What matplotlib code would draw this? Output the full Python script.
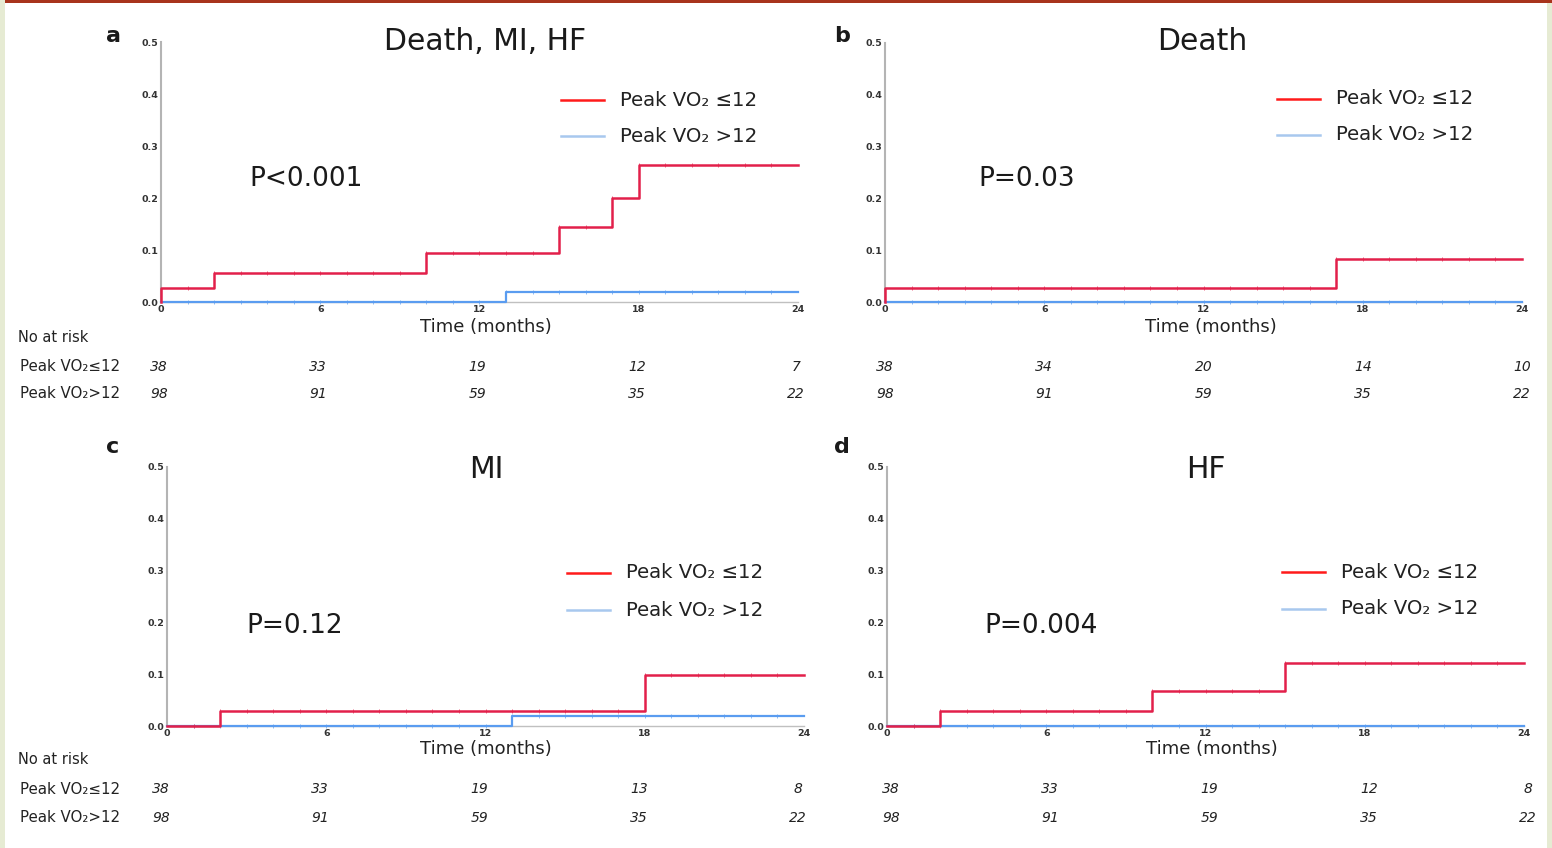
import matplotlib
matplotlib.use("Agg")
import matplotlib.pyplot as plt
from matplotlib.lines import Line2D
from matplotlib.patches import Rectangle
import matplotlib.transforms as mtrans
import numpy as np

# ---------------- data ----------------
panel_letters = ["a", "b", "c", "d"]
panel_titles = ["Death, MI, HF", "Death", "MI", "HF"]
p_values = ["P<0.001", "P=0.03", "P=0.12", "P=0.004"]
series_names = ["Peak VO\u2082 \u226412", "Peak VO\u2082 >12"]
row_names = ["Peak VO\u2082\u226412", "Peak VO\u2082>12"]

x_ticks = [0, 6, 12, 18, 24]
y_ticks = [0.0, 0.1, 0.2, 0.3, 0.4, 0.5]
y_tick_labels = ["0.0", "0.1", "0.2", "0.3", "0.4", "0.5"]
censor_months = list(range(1, 24))

# step curves (time, cumulative incidence)
a_low_t = [0, 0, 2, 10, 15, 17, 18, 24]
a_low_y = [0.0, 0.027, 0.055, 0.094, 0.144, 0.200, 0.263, 0.263]
a_high_t = [0, 13, 24]
a_high_y = [0.0, 0.020, 0.020]

b_low_t = [0, 0, 17, 24]
b_low_y = [0.0, 0.027, 0.083, 0.083]
b_high_t = [0, 24]
b_high_y = [0.0, 0.0]

c_low_t = [0, 2, 18, 24]
c_low_y = [0.0, 0.028, 0.098, 0.098]
c_high_t = [0, 13, 24]
c_high_y = [0.0, 0.020, 0.020]

d_low_t = [0, 2, 10, 15, 24]
d_low_y = [0.0, 0.028, 0.068, 0.121, 0.121]
d_high_t = [0, 24]
d_high_y = [0.0, 0.0]

# numbers at risk at 0, 6, 12, 18, 24 months
a_risk_low = [38, 33, 19, 12, 7]
a_risk_high = [98, 91, 59, 35, 22]
b_risk_low = [38, 34, 20, 14, 10]
b_risk_high = [98, 91, 59, 35, 22]
c_risk_low = [38, 33, 19, 13, 8]
c_risk_high = [98, 91, 59, 35, 22]
d_risk_low = [38, 33, 19, 12, 8]
d_risk_high = [98, 91, 59, 35, 22]

curves = [
    (a_low_t, a_low_y, a_high_t, a_high_y),
    (b_low_t, b_low_y, b_high_t, b_high_y),
    (c_low_t, c_low_y, c_high_t, c_high_y),
    (d_low_t, d_low_y, d_high_t, d_high_y),
]
risks = [
    (a_risk_low, a_risk_high),
    (b_risk_low, b_risk_high),
    (c_risk_low, c_risk_high),
    (d_risk_low, d_risk_high),
]

# ---------------- layout (pixels) ----------------
W, H = 1552, 848
plt.rcParams["font.family"] = ["DejaVu Sans"]

RED = "#e2204a"
BLUE = "#5a9cf0"
LEG_RED = "#ff1a1a"
LEG_BLUE = "#a8c8ee"
TXT = "#1a1a1a"

# axes boxes: left, right, top(y of 0.5), bottom (y of 0.0)
boxes = [
    (161, 798, 42, 302),
    (885, 1522, 43, 302),
    (167, 804, 467, 726),
    (887, 1524, 467, 726),
]
letter_pos = [(113, 36), (842, 36), (113, 447), (842, 447)]
title_pos = [(485, 42), (1202, 42), (486, 469), (1206, 469)]
pval_pos = [(249, 179), (978, 179), (246, 626), (984, 626)]
legend_pos = [(561, 100, 136), (1277, 99, 135), (567, 573, 610), (1282, 572, 609)]
time_label_pos = [(486, 327), (1211, 327), (486, 749), (1212, 749)]
risk_rows_y = [(337, 367, 394), (None, 367, 394), (760, 789, 818), (None, 789, 818)]
risk_x_shift = [-2, 0, -6, 4]


def fx(px):
    return px / W


def fy(py):
    return 1 - py / H


fig = plt.figure(figsize=(W / 100, H / 100), dpi=100)
fig.patch.set_facecolor("white")

# decorative frame of the slide
fig.patches.append(Rectangle((0, fy(3)), 1, 3 / H, transform=fig.transFigure,
                             facecolor="#a8341c", edgecolor="none", zorder=0))
fig.patches.append(Rectangle((0, 0), 5 / W, 1, transform=fig.transFigure,
                             facecolor="#e6ebd3", edgecolor="none", zorder=0))
fig.patches.append(Rectangle((fx(1547), 0), 5 / W, fy(3), transform=fig.transFigure,
                             facecolor="#e6ebd3", edgecolor="none", zorder=0))


def step_value(t, y, m):
    idx = np.searchsorted(np.array(t), m, side="right") - 1
    return y[max(idx, 0)]


for i in range(4):
    l, r, t, b = boxes[i]
    ax = fig.add_axes([fx(l), fy(b), fx(r) - fx(l), fy(t) - fy(b)])
    ax.set_xlim(0, 24)
    ax.set_ylim(0, 0.5)
    lt, ly, ht, hy = curves[i]

    ax.step(ht, hy, where="post", color=BLUE, lw=1.6, zorder=3, clip_on=False)
    ax.step(lt, ly, where="post", color=RED, lw=1.8, zorder=4, clip_on=False)
    # censor marks
    cm = censor_months
    ax.plot(cm, [step_value(ht, hy, m) for m in cm], ls="none", marker="|",
            ms=3, mew=0.6, color=BLUE, alpha=0.8, zorder=3, clip_on=False)
    ax.plot(cm, [step_value(lt, ly, m) for m in cm], ls="none", marker="|",
            ms=3, mew=0.6, color=RED, alpha=0.8, zorder=4, clip_on=False)

    for s in ["top", "right"]:
        ax.spines[s].set_visible(False)
    ax.spines["left"].set_color("#b4b4b4")
    ax.spines["left"].set_linewidth(1.5)
    ax.spines["bottom"].set_color("#c0c0c0")
    ax.spines["bottom"].set_linewidth(1.0)
    ax.set_xticks(x_ticks)
    ax.set_xticklabels([str(v) for v in x_ticks])
    ax.set_yticks(y_ticks)
    ax.set_yticklabels(y_tick_labels)
    ax.tick_params(length=0, labelsize=6.8, labelcolor="#333333", pad=2)
    for lab in ax.get_xticklabels() + ax.get_yticklabels():
        lab.set_fontweight("bold")
    ax.patch.set_alpha(0)

    # title, letter, p-value, x label
    tx, ty = title_pos[i]
    fig.text(fx(tx), fy(ty), panel_titles[i], fontsize=21.5,
             ha="center", va="center", color=TXT)
    lx, lyy = letter_pos[i]
    fig.text(fx(lx), fy(lyy), panel_letters[i], fontsize=16, fontweight="bold",
             ha="center", va="center", color=TXT)
    px, py = pval_pos[i]
    fig.text(fx(px), fy(py), p_values[i], fontsize=19, ha="left", va="center",
             color=TXT)
    xx, xy = time_label_pos[i]
    fig.text(fx(xx), fy(xy), "Time (months)", fontsize=13,
             ha="center", va="center", color="#222222")

    # legend
    gx, gy1, gy2 = legend_pos[i]
    for yy, col, name in [(gy1, LEG_RED, series_names[0]), (gy2, LEG_BLUE, series_names[1])]:
        fig.add_artist(Line2D([fx(gx), fx(gx + 43)], [fy(yy), fy(yy)],
                              transform=fig.transFigure, color=col, lw=1.8))
        fig.text(fx(gx + 59), fy(yy), name, fontsize=14.2, ha="left", va="center",
                 color="#222222")

    # numbers at risk
    nar_y, row1_y, row2_y = risk_rows_y[i]
    if nar_y is not None:
        fig.text(fx(18), fy(nar_y), "No at risk", fontsize=10.5, ha="left",
                 va="center", color="#222222")
        fig.text(fx(20), fy(row1_y), row_names[0], fontsize=10.8, ha="left",
                 va="center", color="#222222")
        fig.text(fx(20), fy(row2_y), row_names[1], fontsize=10.8, ha="left",
                 va="center", color="#222222")
    trans = mtrans.blended_transform_factory(ax.transData, fig.transFigure)
    trans = mtrans.offset_copy(trans, fig=fig, x=risk_x_shift[i], y=0, units="dots")
    low, high = risks[i]
    for xv, n1, n2 in zip(x_ticks, low, high):
        ax.text(xv, fy(row1_y), str(n1), transform=trans, fontsize=10,
                style="italic", ha="center", va="center", color="#222222")
        ax.text(xv, fy(row2_y), str(n2), transform=trans, fontsize=10,
                style="italic", ha="center", va="center", color="#222222")

fig.savefig("out.png", dpi=100, facecolor="white")
